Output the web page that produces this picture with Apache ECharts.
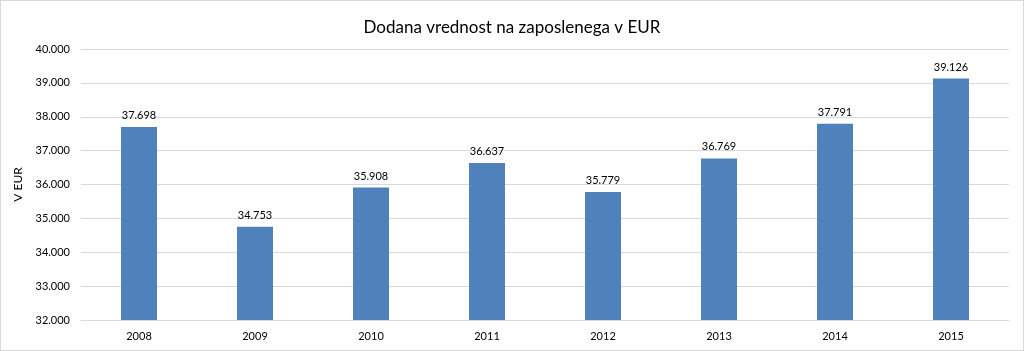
<!DOCTYPE html>
<html>
<head>
<meta charset="utf-8">
<script src="https://cdn.jsdelivr.net/npm/echarts@6/dist/echarts.min.js"></script>
<style>
  html, body { margin: 0; padding: 0; background: #fff; }
  #chart { width: 1024px; height: 351px; box-sizing: border-box; border: 1px solid #d9d9d9; }
</style>
</head>
<body>
<div id="chart"></div>
<script>
const years = ["2008", "2009", "2010", "2011", "2012", "2013", "2014", "2015"];
const values = [37698, 34753, 35908, 36637, 35779, 36769, 37791, 39126];

const fmt = (v) => String(v).replace(/\B(?=(\d{3})+(?!\d))/g, ".");

const chart = echarts.init(document.getElementById("chart"));
chart.setOption({
  animation: false,
  textStyle: { fontFamily: "Lato" },
  title: {
    text: "Dodana vrednost na zaposlenega v EUR",
    left: "center",
    top: 13,
    textStyle: { fontSize: 17, fontWeight: "normal", color: "#000", fontFamily: "Lato" },
  },
  grid: {
    left: 80,
    right: 14,
    top: 48,
    bottom: 30,
  },
  xAxis: {
    type: "category",
    data: years,
    axisTick: { show: false },
    axisLine: { lineStyle: { color: "#d9d9d9" } },
    axisLabel: { color: "#000", fontSize: 11, margin: 11 },
  },
  yAxis: {
    type: "value",
    name: "V EUR",
    nameLocation: "middle",
    nameGap: 48,
    nameTextStyle: { color: "#000", fontSize: 12 },
    min: 32000,
    max: 40000,
    interval: 1000,
    axisLabel: { color: "#000", fontSize: 11, margin: 11, formatter: fmt },
    splitLine: { lineStyle: { color: "#d9d9d9" } },
  },
  series: [
    {
      type: "bar",
      data: values,
      barWidth: 36,
      itemStyle: { color: "#4f81bd" },
      label: {
        show: true,
        position: "top",
        distance: 6,
        color: "#000",
        fontSize: 11,
        formatter: (p) => fmt(p.value),
      },
    },
  ],
});
</script>
</body>
</html>
